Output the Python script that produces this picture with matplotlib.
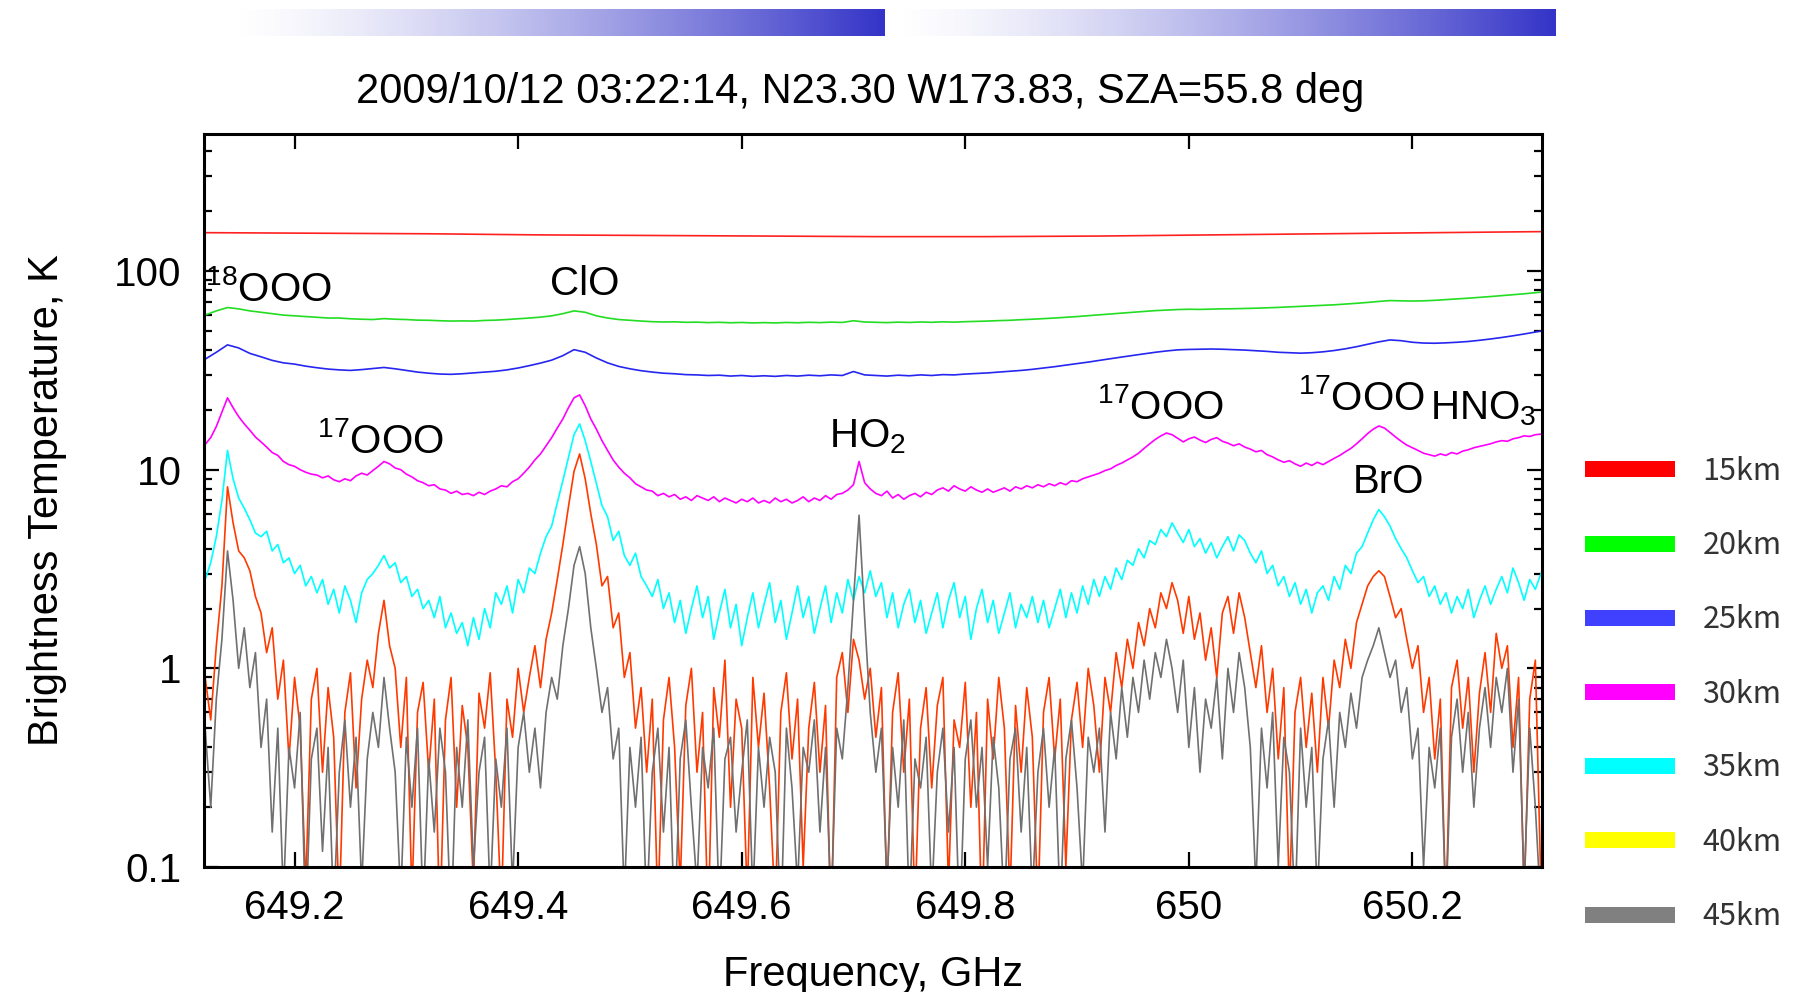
import numpy as np
import matplotlib
matplotlib.use('Agg')
import matplotlib.pyplot as plt
from matplotlib.colors import LinearSegmentedColormap
from matplotlib.patches import Rectangle
from matplotlib.ticker import LogLocator, NullFormatter, FuncFormatter

plt.rcParams['font.family'] = ['Liberation Sans', 'DejaVu Sans']
plt.rcParams['mathtext.default'] = 'regular'

title = "2009/10/12 03:22:14, N23.30 W173.83, SZA=55.8 deg"

# spectrometer channel grids (GHz)
freq_coarse = np.round(649.12 + 0.1 * np.arange(13), 2)
freq_mid = np.round(649.12 + 0.01 * np.arange(121), 2)
freq_fine = np.round(649.12 + 0.005 * np.arange(240), 3)

# brightness temperature, K
tb_15km = [156, 155, 154, 152, 151, 150, 149, 149, 150, 152, 154, 156, 158]

tb_20km = [60, 63, 65.5, 64.5, 63, 62, 61, 60, 59.5, 59,
           58.5, 58, 58, 57.5, 57.2, 57, 57.6, 57.2, 57, 56.6,
           56.5, 56.2, 56, 56.1, 56, 56.4, 56.6, 57, 57.5, 58,
           58.6, 59.5, 61, 63, 62, 59.5, 58, 57, 56.5, 56,
           55.6, 55.4, 55.5, 55.2, 55.3, 55.0, 55.2, 54.9, 55.1, 54.8,
           55.0, 54.8, 55.1, 54.9, 55.2, 55.0, 55.3, 55.1, 56.2, 55.4,
           55.2, 55.0, 55.3, 55.1, 55.4, 55.2, 55.5, 55.3, 55.6, 55.8,
           56.0, 56.3, 56.5, 56.9, 57.2, 57.6, 58.0, 58.5, 59.0, 59.6,
           60.2, 60.8, 61.4, 62.0, 62.6, 63.2, 63.6, 64.0, 64.2, 64.1,
           64.3, 64.5, 64.6, 64.8, 65.0, 65.3, 65.6, 66.0, 66.4, 66.8,
           67.2, 67.6, 68.2, 68.8, 69.5, 70.3, 71.0, 70.8, 70.6, 70.8,
           71.2, 71.8, 72.4, 73.0, 73.7, 74.4, 75.2, 76.0, 76.8, 77.8, 79.0]

tb_25km = [36, 39, 42.5, 41, 38.5, 37, 35.5, 34.5, 34, 33.2,
           32.6, 32.1, 31.8, 31.6, 31.9, 32.3, 32.7, 32.2, 31.6, 31.0,
           30.6, 30.3, 30.2, 30.4, 30.7, 31.0, 31.3, 31.8, 32.5, 33.4,
           34.4, 35.6, 37.5, 40.2, 39.0, 36.5, 34.5, 33.1, 32.2, 31.5,
           31.0, 30.6, 30.4, 30.1, 30.0, 29.8, 29.9, 29.6, 29.8, 29.5,
           29.7, 29.5, 29.8, 29.6, 29.9, 29.7, 30.0, 29.8, 31.2, 30.0,
           29.8, 29.6, 29.9, 29.7, 30.0, 29.8, 30.1, 30.0, 30.3, 30.5,
           30.7, 31.0, 31.3, 31.6, 32.0, 32.5, 33.0, 33.6, 34.2, 34.8,
           35.5, 36.2, 36.9, 37.6, 38.3, 39.0, 39.6, 40.1, 40.3, 40.4,
           40.5, 40.4, 40.2, 40.0, 39.7, 39.4, 39.0, 38.8, 38.6, 38.8,
           39.2, 39.8, 40.6, 41.6, 42.8, 44.0, 45.0, 44.6, 43.8, 43.4,
           43.3, 43.5, 43.8, 44.2, 44.8, 45.5, 46.3, 47.2, 48.2, 49.3, 50.5]

tb_30km = [13.4, 14.5, 16.5, 19.5, 23.0, 20.5, 18.5, 17.0, 15.8, 14.6,
           13.8, 13.0, 12.2, 11.8, 11.0, 10.6, 10.4, 10.0, 9.7, 9.5,
           9.4, 9.1, 9.3, 8.9, 8.7, 9.0, 8.8, 9.3, 9.6, 9.4,
           9.9, 10.4, 11.0, 10.7, 10.2, 10.0, 9.5, 9.2, 8.8, 8.6,
           8.3, 8.4, 8.0, 7.9, 7.6, 7.8, 7.5, 7.6, 7.4, 7.7,
           7.5, 7.8, 8.0, 8.3, 8.2, 8.7, 9.0, 9.6, 10.3, 11.2,
           12.0, 13.2, 14.5, 16.2, 18.0, 20.5, 23.0, 23.8, 21.0, 18.0,
           16.0, 14.0, 12.5, 11.2, 10.3, 9.6, 9.1, 8.5, 8.2, 7.9,
           7.8, 7.4, 7.6, 7.3, 7.5, 7.1, 7.3, 7.0, 7.4, 7.2,
           7.0, 7.3, 6.9, 7.2, 7.0, 6.8, 7.1, 6.9, 7.2, 6.8,
           7.0, 6.8, 7.2, 6.9, 7.1, 6.8, 7.0, 7.3, 6.9, 7.2,
           7.0, 7.4, 7.1, 7.5, 7.6, 7.9, 8.4, 11.0, 8.6, 8.0,
           7.6, 7.4, 7.8, 7.2, 7.5, 7.1, 7.4, 7.6, 7.3, 7.7,
           7.5, 7.9, 8.1, 7.8, 8.3, 8.0, 7.8, 8.2, 7.9, 7.7,
           8.0, 7.7, 7.9, 8.1, 7.8, 8.2, 8.0, 8.3, 8.1, 8.4,
           8.2, 8.5, 8.3, 8.6, 8.4, 8.8, 8.7, 9.0, 9.2, 9.4,
           9.6, 9.9, 10.1, 10.5, 10.8, 11.2, 11.6, 12.1, 12.8, 13.5,
           14.2, 14.8, 15.3, 15.0, 14.4, 13.8, 14.3, 14.6, 14.1, 13.7,
           14.2, 14.5, 13.9, 13.6, 13.2, 13.5, 13.0, 12.7, 12.3, 12.5,
           11.9, 11.6, 11.2, 10.9, 11.1, 10.7, 10.4, 10.8, 10.5, 10.9,
           10.6, 11.0, 11.4, 11.8, 12.3, 12.8, 13.5, 14.3, 15.2, 16.0,
           16.6, 16.2, 15.4, 14.6, 13.9, 13.3, 12.9, 12.5, 12.1, 11.9,
           11.7, 12.0, 11.8, 12.2, 12.0, 12.4, 12.6, 12.9, 13.1, 13.3,
           13.5, 13.8, 14.0, 13.9, 14.3, 14.5, 14.8, 14.7, 15.0, 15.1]

tb_35km = [2.8, 3.4, 4.6, 7.0, 12.5, 9.0, 7.2, 6.4, 5.6, 4.8,
           4.6, 4.9, 3.9, 4.2, 3.4, 3.6, 3.0, 3.3, 2.6, 2.9,
           2.4, 2.8, 2.1, 2.5, 1.9, 2.6, 2.2, 1.7, 2.4, 2.8,
           3.0, 3.3, 3.7, 3.2, 3.4, 2.7, 2.9, 2.3, 2.5, 2.0,
           2.2, 1.8, 2.3, 1.6, 1.9, 1.5, 1.7, 1.3, 1.8, 1.4,
           2.0, 1.6, 2.4, 2.1, 2.6, 1.9, 2.8, 2.4, 3.2, 3.0,
           3.8, 4.6, 5.2, 6.8, 8.8, 11.5, 15.0, 17.0, 14.0, 11.0,
           8.5, 6.6, 5.8, 4.4, 4.9, 3.7, 3.3, 3.8, 2.9, 2.6,
           2.3, 2.8, 2.0, 2.4, 1.7, 2.2, 1.5, 2.0, 2.6, 1.8,
           2.3, 1.4, 1.9, 2.5, 1.6, 2.1, 1.3, 1.8, 2.4, 1.6,
           2.1, 2.7, 1.7, 2.2, 1.4, 1.9, 2.6, 1.8, 2.3, 1.5,
           2.0, 2.6, 1.7, 2.4, 1.9, 2.8, 2.2, 2.9, 2.4, 3.1,
           2.3, 2.7, 1.8, 2.4, 1.6, 2.1, 2.5, 1.7, 2.2, 1.5,
           1.9, 2.4, 1.6, 2.2, 2.7, 1.8, 2.3, 1.4, 2.0, 2.5,
           1.7, 2.2, 1.5, 1.9, 2.4, 1.6, 2.1, 1.8, 2.3, 1.7,
           2.2, 1.6, 2.0, 2.5, 1.8, 2.4, 1.9, 2.6, 2.1, 2.8,
           2.3, 2.9, 2.5, 3.2, 2.8, 3.5, 3.3, 4.0, 3.6, 4.4,
           4.2, 5.0, 4.6, 5.4, 4.8, 4.3, 5.0, 4.1, 4.5, 3.8,
           4.3, 3.6, 4.1, 4.6, 3.9, 4.7, 4.4, 3.8, 3.4, 3.9,
           3.0, 3.3, 2.6, 2.9, 2.3, 2.7, 2.1, 2.5, 1.9, 2.4,
           2.6, 2.2, 2.9, 2.5, 3.3, 3.0, 3.8, 4.1, 4.8, 5.6,
           6.3, 5.8, 5.2, 4.5, 4.0, 3.6, 3.1, 2.7, 2.9, 2.3,
           2.6, 2.1, 2.4, 1.9, 2.3, 2.0, 2.5, 1.8, 2.2, 2.6,
           2.1, 2.5, 2.9, 2.4, 3.2, 2.7, 2.2, 2.8, 2.5, 3.0]

tb_40km = [0.9, 0.55, 1.3, 2.6, 8.2, 5.4, 3.9, 3.6, 3.1, 2.3,
           1.9, 1.2, 1.6, 0.7, 1.1, 0.35, 0.9, 0.5, 0.08, 0.7,
           1.0, 0.3, 0.8, 0.45, 0.06, 0.6, 0.95, 0.25, 0.7, 1.1,
           0.8, 1.5, 2.2, 1.3, 1.0, 0.4, 0.9, 0.07, 0.6, 0.85,
           0.3, 0.7, 0.05, 0.55, 0.9, 0.2, 0.65, 0.4, 0.08, 0.75,
           0.5, 0.95, 0.3, 0.06, 0.7, 0.45, 1.0, 0.6, 0.9, 1.3,
           0.8, 1.4, 1.9, 2.8, 4.2, 6.5, 9.8, 12.0, 9.0, 6.0,
           4.2, 2.6, 2.9, 1.6, 1.9, 0.9, 1.2, 0.5, 0.8, 0.3,
           0.7, 0.06, 0.55, 0.9, 0.4, 0.08, 0.65, 1.0, 0.3, 0.6,
           0.05, 0.8, 0.45, 1.1, 0.2, 0.7, 0.5, 0.07, 0.9, 0.4,
           0.75, 0.25, 0.06, 0.6, 0.95, 0.35, 0.7, 0.1, 0.5, 0.85,
           0.3, 0.65, 0.05, 0.9, 1.2, 0.6, 1.4, 1.1, 0.7, 1.0,
           0.45, 0.8, 0.07, 0.6, 0.95, 0.3, 0.7, 0.06, 0.5, 0.8,
           0.25, 0.65, 0.9, 0.08, 0.55, 0.4, 0.85, 0.2, 0.6, 0.05,
           0.7, 0.35, 0.9, 0.5, 0.07, 0.65, 0.3, 0.8, 0.45, 0.06,
           0.6, 0.9, 0.35, 0.7, 0.1, 0.55, 0.85, 0.4, 1.0, 0.65,
           0.3, 0.9, 0.6, 1.2, 0.8, 1.4, 1.0, 1.7, 1.3, 2.0,
           1.6, 2.4, 2.0, 2.7, 2.2, 1.5, 2.3, 1.4, 1.9, 1.1,
           1.6, 0.9, 1.9, 2.3, 1.5, 2.4, 1.8, 1.2, 0.8, 1.3,
           0.6, 1.0, 0.35, 0.8, 0.07, 0.6, 0.9, 0.4, 0.75, 0.3,
           0.9, 0.5, 1.1, 0.8, 1.4, 1.0, 1.7, 2.1, 2.6, 2.9,
           3.1, 2.9, 2.3, 1.8, 2.0, 1.4, 1.0, 1.3, 0.6, 0.9,
           0.35, 0.7, 0.06, 0.8, 1.1, 0.5, 0.9, 0.3, 0.75, 1.2,
           0.6, 1.5, 1.0, 1.3, 0.4, 0.9, 0.07, 0.7, 1.1, 0.08]

tb_45km = [0.5, 0.2, 0.7, 1.4, 3.9, 2.2, 1.0, 1.6, 0.8, 1.2,
           0.4, 0.7, 0.15, 0.5, 0.07, 0.4, 0.25, 0.6, 0.05, 0.35,
           0.5, 0.12, 0.4, 0.06, 0.3, 0.55, 0.2, 0.45, 0.08, 0.35,
           0.6, 0.4, 0.9, 0.5, 0.3, 0.07, 0.45, 0.2, 0.5, 0.06,
           0.35, 0.15, 0.5, 0.3, 0.05, 0.4, 0.2, 0.55, 0.1, 0.3,
           0.45, 0.07, 0.35, 0.2, 0.5, 0.08, 0.4, 0.6, 0.3, 0.5,
           0.25, 0.6, 0.9, 0.7, 1.3, 2.0, 3.3, 4.1, 3.0, 1.6,
           1.0, 0.6, 0.8, 0.35, 0.5, 0.07, 0.4, 0.2, 0.45, 0.06,
           0.3, 0.5, 0.15, 0.4, 0.05, 0.35, 0.55, 0.2, 0.08, 0.4,
           0.25, 0.5, 0.06, 0.35, 0.45, 0.15, 0.3, 0.55, 0.07, 0.4,
           0.2, 0.45, 0.3, 0.05, 0.5, 0.25, 0.08, 0.4, 0.3, 0.55,
           0.15, 0.4, 0.06, 0.5, 0.35, 0.8, 2.2, 5.9, 1.8, 0.6,
           0.3, 0.5, 0.08, 0.4, 0.2, 0.55, 0.06, 0.35, 0.25, 0.45,
           0.07, 0.3, 0.5, 0.15, 0.4, 0.05, 0.35, 0.55, 0.2, 0.4,
           0.1, 0.45, 0.25, 0.06, 0.35, 0.5, 0.15, 0.4, 0.07, 0.3,
           0.5, 0.2, 0.4, 0.06, 0.35, 0.55, 0.25, 0.08, 0.45, 0.3,
           0.5, 0.15, 0.6, 0.35, 0.8, 0.45, 0.9, 0.6, 1.1, 0.7,
           1.2, 0.9, 1.4, 1.0, 0.6, 1.1, 0.4, 0.8, 0.3, 0.7,
           0.5, 0.9, 0.35, 1.0, 0.6, 1.2, 0.8, 0.4, 0.08, 0.5,
           0.25, 0.6, 0.1, 0.45, 0.3, 0.06, 0.5, 0.2, 0.4, 0.07,
           0.35, 0.55, 0.2, 0.6, 0.4, 0.75, 0.5, 0.9, 1.1, 1.3,
           1.6, 1.2, 0.9, 1.1, 0.6, 0.8, 0.35, 0.5, 0.1, 0.4,
           0.25, 0.5, 0.06, 0.45, 0.7, 0.3, 0.6, 0.2, 0.5, 0.8,
           0.4, 0.9, 0.6, 1.0, 0.3, 0.7, 0.08, 0.5, 0.2, 0.06]

altitudes = ['15km', '20km', '25km', '30km', '35km', '40km', '45km']
line_colors = ['#ff2020', '#22dd22', '#2626f0', '#ff00ff', '#00ffff', '#ff3a00', '#707070']
key_colors = ['#ff0000', '#00ff00', '#4040ff', '#ff00ff', '#00ffff', '#ffff00', '#808080']

xtick_values = [649.2, 649.4, 649.6, 649.8, 650.0, 650.2]
xtick_labels = ['649.2', '649.4', '649.6', '649.8', '650', '650.2']

# line labels: text, left frequency, baseline temperature
species = [(r'$^{18}$OOO', 649.120, 71.0),
           ('ClO', 649.4285, 75.5),
           (r'$^{17}$OOO', 649.2205, 12.2),
           (r'HO$_2$', 649.678, 13.0),
           (r'$^{17}$OOO', 649.918, 18.1),
           (r'$^{17}$OOO', 650.0975, 19.9),
           (r'HNO$_3$', 650.216, 18.0),
           ('BrO', 650.1467, 7.66)]

fig = plt.figure(figsize=(17.96, 9.92), dpi=100)
ax = fig.add_axes([0.1136, 0.126, 0.745, 0.739])

series = [(freq_coarse, tb_15km), (freq_mid, tb_20km), (freq_mid, tb_25km),
          (freq_fine, tb_30km), (freq_fine, tb_35km), (freq_fine, tb_40km),
          (freq_fine, tb_45km)]
for (f, tb), c in zip(series, line_colors):
    ax.plot(f, tb, color=c, lw=1.2)

ax.set_yscale('log')
ax.set_ylim(0.1, 490)
ax.set_xlim(649.119, 650.316)
ax.set_yticks([0.1, 1, 10, 100])
ax.yaxis.set_major_formatter(FuncFormatter(lambda v, p: '%g' % v))
ax.yaxis.set_minor_locator(LogLocator(base=10, subs=np.arange(2, 10)))
ax.yaxis.set_minor_formatter(NullFormatter())
ax.set_xticks(xtick_values)
ax.set_xticklabels(xtick_labels)
ax.tick_params(which='both', direction='in', top=True, right=True, width=1.6)
ax.tick_params(which='major', length=11, labelsize=29, pad=16)
ax.tick_params(which='minor', length=6)
for s in ax.spines.values():
    s.set_linewidth(2.2)

ax.set_xlabel('Frequency, GHz', fontsize=30, labelpad=20)
ax.set_ylabel('Brightness Temperature, K', fontsize=30, labelpad=34)

for txt, f0, t0 in species:
    ax.text(f0, t0, txt, fontsize=29, ha='left', va='baseline')

fig.text(0.479, 0.907, title, fontsize=30, ha='center', va='center')

# altitude key on the right
key_y = [0.527, 0.452, 0.377, 0.302, 0.228, 0.153, 0.078]
for lab, c, y in zip(altitudes, key_colors, key_y):
    fig.add_artist(Rectangle((0.8825, y - 0.008), 0.0501, 0.016,
                             transform=fig.transFigure, color=c, lw=0))
    fig.text(0.948, y - 0.002, lab, fontsize=22, color='#333333', va='center',
             family=['Noto Sans CJK JP', 'DejaVu Sans'])

# shaded bars across the top
cmap = LinearSegmentedColormap.from_list('fade', ['#ffffff', '#3434c8'])
grad = np.linspace(0, 1, 256)[None, :] ** 1.4
for x0, x1 in [(229, 885), (891, 1556)]:
    bar = fig.add_axes([x0 / 1796, 1 - 36 / 992, (x1 - x0) / 1796, 27 / 992])
    bar.imshow(grad, aspect='auto', cmap=cmap)
    bar.set_axis_off()

fig.savefig('out.png', dpi=100)
